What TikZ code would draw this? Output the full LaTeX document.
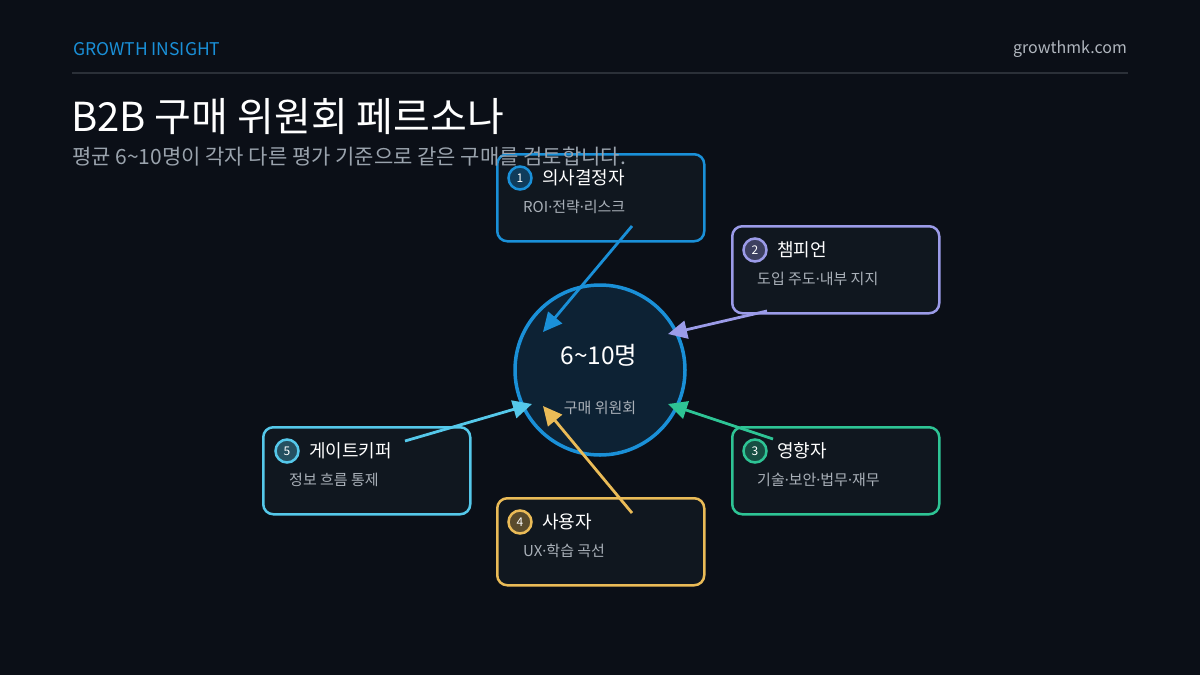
\documentclass[tikz,border=0pt]{standalone}
\usepackage{fontspec}
\setmainfont{Noto Sans CJK KR}
\newfontfamily\latinfont{Noto Sans}
\newcommand\mdot{{\latinfont ·}}
\usetikzlibrary{arrows.meta}
\definecolor{bg}{HTML}{0B0F17}
\definecolor{cardbg}{HTML}{10171F}
\definecolor{hubbg}{HTML}{0D2234}
\definecolor{cblue}{HTML}{1A90D8}
\definecolor{clav}{HTML}{9B9BE8}
\definecolor{cgreen}{HTML}{2EC495}
\definecolor{cyellow}{HTML}{EABB57}
\definecolor{ccyan}{HTML}{55C8EA}
\definecolor{rulecol}{HTML}{2B3038}
\definecolor{subgray}{HTML}{9AA3AD}
\definecolor{urlgray}{HTML}{B0B6BE}
\definecolor{descgray}{HTML}{A9B0B8}
\tikzset{
  card/.style={draw=#1, line width=2.5pt, fill=cardbg, rounded corners=10pt,
    minimum width=207pt, minimum height=87pt, anchor=north west, inner sep=0pt},
  badge/.style={circle, draw=#1, line width=2.5pt, fill=#1!35!bg, minimum size=23pt,
    inner sep=0pt, text=white, font=\fontsize{12}{13}\selectfont},
  ttl/.style={anchor=west, text=white, font=\fontsize{18}{20}\selectfont, inner sep=0pt},
  desc/.style={anchor=west, text=descgray, font=\fontsize{15}{17}\selectfont, inner sep=0pt},
  conn/.style={draw=#1, line width=2.8pt, -{Triangle[length=19pt,width=18pt]}},
}
\begin{document}
\begin{tikzpicture}[x=1pt,y=-1pt]
\fill[bg] (0,0) rectangle (1200,675);
\useasboundingbox (0,0) rectangle (1200,675);
% header
\node[anchor=west, inner sep=0pt, text=cblue, font=\fontsize{17.5}{19}\selectfont] (brand) at (73,49) {GROWTH INSIGHT};
\node[anchor=east, inner sep=0pt, text=urlgray, font=\fontsize{16}{18}\selectfont] (url) at (1127,49) {growthmk.com};
\coordinate (rl) at (72,73);
\coordinate (rr) at (1128,73);
\draw[rulecol, line width=2pt] (rl) -- (rr);
\node[anchor=west, inner sep=0pt, text=white, font=\fontsize{40}{44}\selectfont] (title) at (71,117) {B2B 구매 위원회 페르소나};
% hub
\node[circle, draw=cblue, line width=3.5pt, fill=hubbg, minimum size=170pt, inner sep=0pt] (hub) at (600,370) {};
\node[text=white, inner sep=0pt, font=\fontsize{24.5}{26}\selectfont] (hubnum) at (599,355) {6\textasciitilde10명};
\node[text=descgray, inner sep=0pt, font=\fontsize{15}{17}\selectfont] (hublbl) at (600,408) {구매 위원회};
% cards
\node[card=cblue] (b1) at (496,153) {};
\node[badge=cblue] (n1) at (520,178) {1};
\node[ttl] (t1) at (542,178) {의사결정자};
\node[desc] (d1) at (523,207) {ROI\mdot 전략\mdot 리스크};

\node[card=clav] (b2) at (731,225) {};
\node[badge=clav] (n2) at (755,250) {2};
\node[ttl] (t2) at (777,250) {챔피언};
\node[desc] (d2) at (757,279) {도입 주도\mdot 내부 지지};

\node[card=cgreen] (b3) at (731,426) {};
\node[badge=cgreen] (n3) at (755,451) {3};
\node[ttl] (t3) at (777,451) {영향자};
\node[desc] (d3) at (757,480) {기술\mdot 보안\mdot 법무\mdot 재무};

\node[card=cyellow] (b4) at (496,497) {};
\node[badge=cyellow] (n4) at (520,522) {4};
\node[ttl] (t4) at (542,522) {사용자};
\node[desc] (d4) at (523,551) {UX\mdot 학습 곡선};

\node[card=ccyan] (b5) at (262,426) {};
\node[badge=ccyan] (n5) at (287,451) {5};
\node[ttl] (t5) at (309,451) {게이트키퍼};
\node[desc] (d5) at (289,480) {정보 흐름 통제};
% subtitle (drawn over card 1, as in the reference)
\node[anchor=west, inner sep=0pt, text=subgray, font=\fontsize{21}{23}\selectfont] (subtitle) at (72,157) {평균 6\textasciitilde10명이 각자 다른 평가 기준으로 같은 구매를 검토합니다.};
% connectors
\coordinate (s1) at (632,226); \coordinate (e1) at (543,332);
\coordinate (s2) at (767,311); \coordinate (e2) at (668,334);
\coordinate (s3) at (773,439); \coordinate (e3) at (668,404);
\coordinate (s4) at (632,513); \coordinate (e4) at (543,406);
\coordinate (s5) at (405,441); \coordinate (e5) at (532,404);
\draw[conn=cblue] (s1) -- (e1);
\draw[conn=clav] (s2) -- (e2);
\draw[conn=cgreen] (s3) -- (e3);
\draw[conn=cyellow] (s4) -- (e4);
\draw[conn=ccyan] (s5) -- (e5);
\end{tikzpicture}
\end{document}
